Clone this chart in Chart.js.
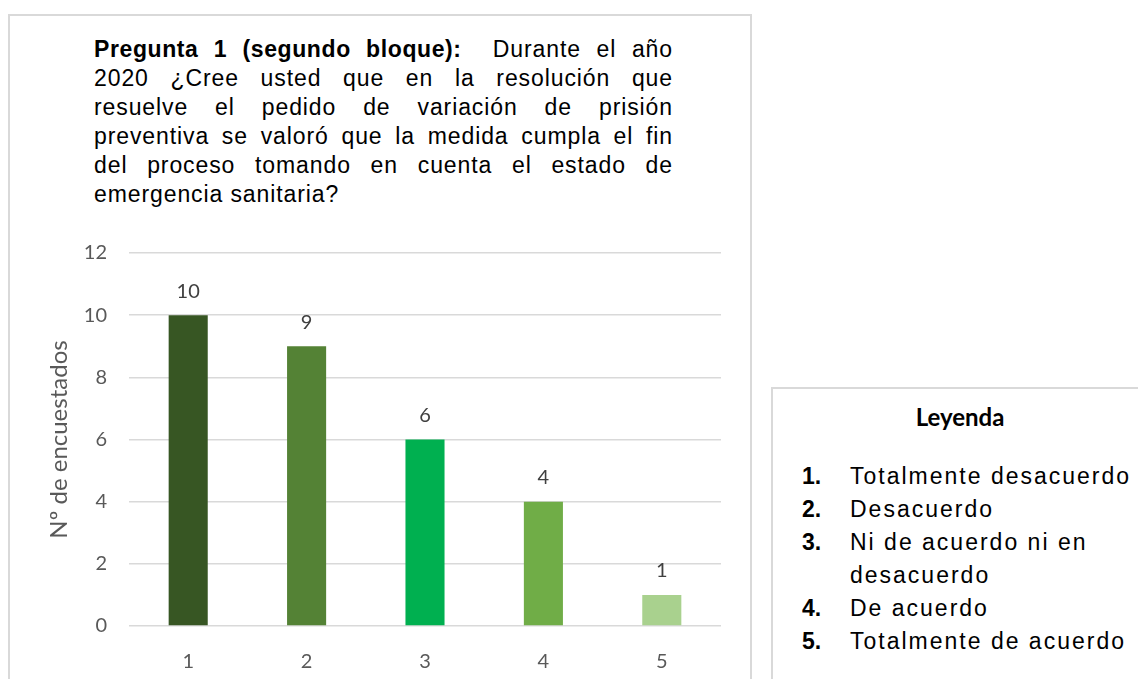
<!DOCTYPE html>
<html>
<head>
<meta charset="utf-8">
<script src="https://cdn.jsdelivr.net/npm/chart.js@4.4.1/dist/chart.umd.min.js"></script>
<style>
  html, body { margin: 0; padding: 0; background: #fff; }
  body { width: 1138px; height: 679px; position: relative; overflow: hidden; }
  .box { position: absolute; border: 2px solid #d9d9d9; background: #fff; box-sizing: border-box; }
  #chartBox { left: 8px; top: 14px; width: 744px; height: 700px; }
  #legendBox { left: 771px; top: 387px; width: 420px; height: 340px; }
  .title { position: absolute; left: 94px; top: 35px; width: 579px;
           font-family: "Liberation Sans", Arial, sans-serif; font-size: 23px; line-height: 29px;
           color: #000; letter-spacing: 0.9px; }
  .title div { white-space: nowrap; text-align: justify; text-align-last: justify; }
  .title div.last { text-align-last: left; }
  .title b { letter-spacing: 0.6px; }
  .canvas-wrap { position: absolute; left: 10px; top: 230px; width: 739px; height: 449px; }
  .leg-title { position: absolute; left: 771px; width: 378px; top: 405px; text-align: center;
               font-family: Lato, sans-serif; font-weight: bold; font-size: 24px; line-height: 24px; color: #000; }
  .leg-list { position: absolute; left: 802px; top: 460px;
              font-family: "Liberation Sans", Arial, sans-serif; font-size: 23px; line-height: 33px; color: #000; }
  .leg-list .row { position: relative; padding-left: 48px; white-space: nowrap; letter-spacing: 2px; }
  .leg-list .row b { position: absolute; left: 0; letter-spacing: 0; }
</style>
</head>
<body>
<div class="box" id="chartBox"></div>
<div class="box" id="legendBox"></div>

<div class="title">
  <div><b>Pregunta 1 (segundo bloque):</b>&nbsp; Durante el año</div>
  <div>2020 ¿Cree usted que en la resolución que</div>
  <div>resuelve el pedido de variación de prisión</div>
  <div>preventiva se valoró que la medida cumpla el fin</div>
  <div>del proceso tomando en cuenta el estado de</div>
  <div class="last">emergencia sanitaria?</div>
</div>

<div class="canvas-wrap"><canvas id="respuestasChart"></canvas></div>

<div class="leg-title">Leyenda</div>
<div class="leg-list" id="legList"></div>

<script>
// datos de la pregunta 1 (segundo bloque)
const categorias = ['1', '2', '3', '4', '5'];
const encuestados = [10, 9, 6, 4, 1];
const coloresBarras = ['#375623', '#548235', '#00b050', '#70ad47', '#a9d18e'];
const leyendaNum = ['1.', '2.', '3.', '', '4.', '5.'];
const leyendaTexto = ['Totalmente desacuerdo', 'Desacuerdo', 'Ni de acuerdo ni en', 'desacuerdo', 'De acuerdo', 'Totalmente de acuerdo'];
const ejeY = { min: 0, max: 12, paso: 2 };

const legList = document.getElementById('legList');
leyendaTexto.forEach((t, i) => {
  const row = document.createElement('div');
  row.className = 'row';
  row.innerHTML = '<b>' + leyendaNum[i] + '</b>' + t;
  legList.appendChild(row);
});

// etiquetas de valor encima de cada barra
const etiquetasValor = {
  id: 'etiquetasValor',
  afterDatasetsDraw(chart) {
    const ctx = chart.ctx;
    ctx.save();
    ctx.font = '20px Lato, sans-serif';
    ctx.fillStyle = '#404040';
    ctx.textAlign = 'center';
    ctx.textBaseline = 'middle';
    chart.getDatasetMeta(0).data.forEach((bar, i) => {
      ctx.fillText(String(chart.data.datasets[0].data[i]), bar.x, bar.y - 24);
    });
    ctx.restore();
  }
};

let respuestasChart = null;

function initialize() {
  const ctx = document.getElementById('respuestasChart').getContext('2d');
  respuestasChart = new Chart(ctx, {
    type: 'bar',
    data: {
      labels: categorias,
      datasets: [{
        data: encuestados,
        backgroundColor: coloresBarras,
        borderWidth: 0,
        categoryPercentage: 0.33,
        barPercentage: 1
      }]
    },
    options: {
      responsive: true,
      maintainAspectRatio: false,
      animation: false,
      layout: { padding: { top: 23, right: 28, left: 0, bottom: 0 } },
      plugins: {
        legend: { display: false },
        tooltip: { enabled: false }
      },
      scales: {
        x: {
          grid: { display: false, drawTicks: false },
          border: { display: false },
          ticks: { color: '#595959', font: { family: 'Lato', size: 20 }, padding: 24 },
          afterFit: (s) => { s.height = 53; }
        },
        y: {
          min: ejeY.min,
          max: ejeY.max,
          // marcas invisibles para separar las etiquetas sin inflar el margen superior
          grid: { color: '#d9d9d9', lineWidth: 1.5, drawTicks: true, tickLength: 12, tickColor: 'rgba(0,0,0,0)' },
          border: { display: false },
          ticks: { stepSize: ejeY.paso, color: '#595959', font: { family: 'Lato', size: 20 }, padding: 10 },
          title: {
            display: true,
            text: 'Nº de encuestados',
            color: '#595959',
            font: { family: 'Lato', size: 24, lineHeight: 1 },
            padding: { top: 37, bottom: 0 }
          },
          afterFit: (s) => { s.width = 119; }
        }
      }
    },
    plugins: [etiquetasValor]
  });
}

initialize();
</script>
</body>
</html>
